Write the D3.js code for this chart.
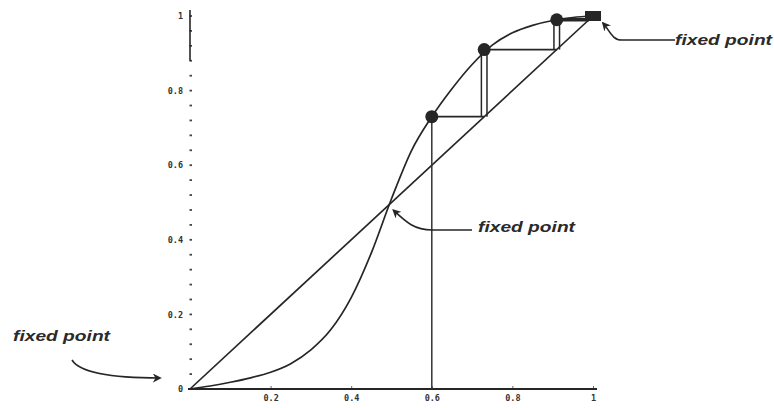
<!DOCTYPE html>
<html>
<head>
<meta charset="utf-8">
<script src="https://cdn.jsdelivr.net/npm/d3@7"></script>
<style>
  html, body { margin: 0; padding: 0; background: #fff; }
  svg { display: block; }
</style>
</head>
<body>
<svg id="chart" width="774" height="408"></svg>
<script>
// Tick labels
const xTicks = [0.2, 0.4, 0.6, 0.8, 1];
const yTicks = [0, 0.2, 0.4, 0.6, 0.8, 1];

// S-shaped map f(x), sampled every 0.05
const curveX = [0, 0.05, 0.1, 0.15, 0.2, 0.25, 0.3, 0.35, 0.4, 0.45, 0.5,
                0.55, 0.6, 0.65, 0.7, 0.75, 0.8, 0.85, 0.9, 0.95, 1];
const curveY = [0, 0.008, 0.018, 0.03, 0.045, 0.068, 0.105, 0.16, 0.245, 0.365, 0.51,
                0.64, 0.73, 0.805, 0.87, 0.922, 0.955, 0.975, 0.988, 0.996, 1];

// Cobweb iterates x0, x1 = f(x0), ...
const iterates = [0.6, 0.73, 0.91, 0.99];

// Fixed points of the map (where f(x) = x)
const fixedPoints = [0, 0.49, 1];
const fixedLabel = "fixed point";

const svg = d3.select("#chart");
const ink = "#262626";

const x = d3.scaleLinear().domain([0, 1]).range([190, 593]);
const y = d3.scaleLinear().domain([0, 1]).range([389, 16]);

// ---- axes ----
// minor dotted ticks along the vertical axis
const minor = d3.range(0, 1.0001, 0.04);
svg.append("g")
  .selectAll("line")
  .data(minor)
  .join("line")
  .attr("x1", x(0) - 0.5).attr("x2", x(0) + 2)
  .attr("y1", d => y(d)).attr("y2", d => y(d))
  .attr("stroke", "#444").attr("stroke-width", 1.8);

// solid upper part of the vertical axis
svg.append("line")
  .attr("x1", x(0)).attr("x2", x(0))
  .attr("y1", y(0.88)).attr("y2", y(1) - 6)
  .attr("stroke", ink).attr("stroke-width", 1.6);

const yAxis = svg.append("g")
  .attr("transform", `translate(${x(0) - 4},0)`)
  .call(d3.axisLeft(y).tickValues(yTicks).tickSize(0).tickPadding(3)
        .tickFormat(d => d === 0 ? "0" : d3.format("")(d)));
yAxis.select(".domain").remove();

const xAxis = svg.append("g")
  .attr("transform", `translate(0,${y(0)})`)
  .call(d3.axisBottom(x).tickValues(xTicks).tickSizeInner(-3).tickSizeOuter(0).tickPadding(6)
        .tickFormat(d3.format("")));
xAxis.select(".domain").remove();
xAxis.selectAll(".tick line").attr("stroke", "#666");

svg.append("line")
  .attr("x1", x(-0.005)).attr("x2", x(1.01))
  .attr("y1", y(0)).attr("y2", y(0))
  .attr("stroke", ink).attr("stroke-width", 2);

svg.selectAll(".tick text")
  .attr("font-family", "DejaVu Sans Mono, monospace")
  .attr("font-weight", "bold")
  .attr("font-size", 8.5)
  .attr("fill", "#333");

// ---- diagonal y = x ----
svg.append("line")
  .attr("x1", x(0)).attr("y1", y(0))
  .attr("x2", x(1)).attr("y2", y(1))
  .attr("stroke", ink).attr("stroke-width", 1.7);

// ---- the map ----
const pts = curveX.map((v, i) => [v, curveY[i]]);
svg.append("path")
  .datum(pts)
  .attr("fill", "none")
  .attr("stroke", ink)
  .attr("stroke-width", 1.7)
  .attr("d", d3.line().x(d => x(d[0])).y(d => y(d[1])).curve(d3.curveMonotoneX));

// ---- cobweb ----
const web = svg.append("g").attr("stroke", ink);
// first vertical from the axis up to the curve
web.append("line")
  .attr("x1", x(iterates[0])).attr("x2", x(iterates[0]))
  .attr("y1", y(0)).attr("y2", y(iterates[1]))
  .attr("stroke", "#333").attr("stroke-width", 1.5);

for (let i = 0; i < iterates.length - 1; i++) {
  const a = iterates[i], b = iterates[i + 1];
  // horizontal to the diagonal
  web.append("line")
    .attr("x1", x(a)).attr("x2", x(b))
    .attr("y1", y(b)).attr("y2", y(b))
    .attr("stroke-width", i === iterates.length - 2 ? 3.5 : 1.8);
  // double vertical from the diagonal up to the curve
  if (i + 2 < iterates.length) {
    const c = iterates[i + 2];
    [-2.8, 2.8].forEach(off => {
      web.append("line")
        .attr("x1", x(b) + off).attr("x2", x(b) + off)
        .attr("y1", y(b)).attr("y2", y(c))
        .attr("stroke-width", 1.5);
    });
  }
}

// iterate points on the curve
svg.append("g")
  .selectAll("circle")
  .data(iterates.slice(0, -1))
  .join("circle")
  .attr("cx", d => x(d))
  .attr("cy", (d, i) => y(iterates[i + 1]))
  .attr("r", 6.5)
  .attr("fill", ink);

// upper fixed point marker
const upperFixed = fixedPoints[fixedPoints.length - 1];
svg.append("rect")
  .attr("x", x(upperFixed) - 8).attr("y", y(upperFixed) - 5)
  .attr("width", 16).attr("height", 10)
  .attr("fill", ink);

// ---- annotations ----
svg.append("defs").append("marker")
  .attr("id", "head")
  .attr("viewBox", "0 0 10 10")
  .attr("refX", 8).attr("refY", 5)
  .attr("markerWidth", 9).attr("markerHeight", 9)
  .attr("markerUnits", "userSpaceOnUse")
  .attr("orient", "auto")
  .append("path")
  .attr("d", "M0,0 L10,5 L0,10 L3,5 Z")
  .attr("fill", ink);

const notes = [
  { tx: 675, ty: 45, d: `M675,40 L622,40 C612,40 610,31 ${x(upperFixed) + 10},${y(upperFixed) + 7}` },
  { tx: 478, ty: 232, d: `M472,230 L432,230 C414,230 406,222 ${x(fixedPoints[1]) + 6},${y(fixedPoints[1]) + 4}` },
  { tx: 13, ty: 341, d: `M72,360 C80,373 112,378 ${x(fixedPoints[0]) - 30},378` }
];

svg.append("g")
  .selectAll("path")
  .data(notes)
  .join("path")
  .attr("d", d => d.d)
  .attr("fill", "none")
  .attr("stroke", ink)
  .attr("stroke-width", 1.6)
  .attr("marker-end", "url(#head)");

svg.append("g")
  .selectAll("text")
  .data(notes)
  .join("text")
  .attr("x", d => d.tx)
  .attr("y", d => d.ty)
  .attr("font-family", "Liberation Sans, Arial, sans-serif")
  .attr("font-style", "italic")
  .attr("font-weight", "bold")
  .attr("font-size", 14)
  .attr("textLength", 97)
  .attr("lengthAdjust", "spacingAndGlyphs")
  .attr("fill", "#2a2a2a")
  .text(fixedLabel);
</script>
</body>
</html>
